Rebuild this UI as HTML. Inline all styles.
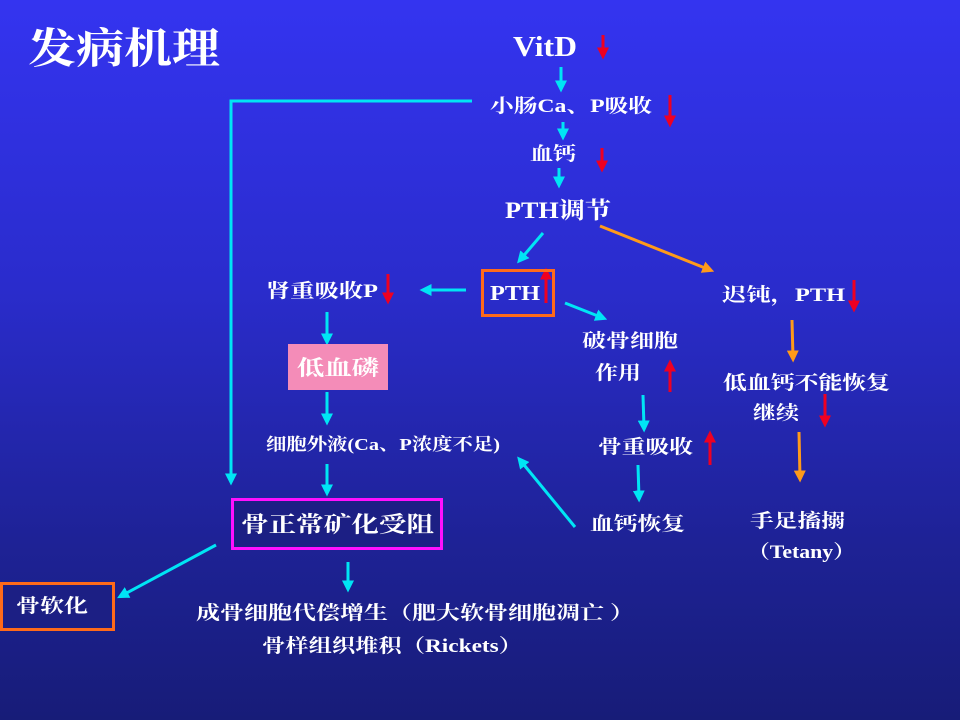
<!DOCTYPE html>
<html><head><meta charset="utf-8"><style>
html,body{margin:0;padding:0;width:960px;height:720px;overflow:hidden}
body{background:linear-gradient(#3434f0 0%,#2a2ccc 40%,#1e2296 75%,#171c78 100%)}
svg{position:absolute;left:0;top:0}
text{fill:#fff;font-family:"Liberation Serif","Noto Serif CJK SC",serif;font-weight:bold}
</style></head><body>
<svg width="960" height="720" viewBox="0 0 960 720">
<defs>
<marker id="c" markerWidth="4" markerHeight="4" refX="2.5" refY="2" orient="auto" markerUnits="strokeWidth"><path d="M0,0L4,2L0,4Z" fill="#00e5f5"/></marker>
<marker id="o" markerWidth="4" markerHeight="4" refX="2.5" refY="2" orient="auto" markerUnits="strokeWidth"><path d="M0,0L4,2L0,4Z" fill="#ff9a1a"/></marker>
<marker id="r" markerWidth="4" markerHeight="4" refX="2.5" refY="2" orient="auto" markerUnits="strokeWidth"><path d="M0,0L4,2L0,4Z" fill="#ee0022"/></marker>
</defs>
<g stroke="#00e5f5" stroke-width="3" fill="none">
<line x1="561" y1="67" x2="561" y2="88" marker-end="url(#c)"/>
<line x1="563" y1="122" x2="563" y2="136" marker-end="url(#c)"/>
<line x1="559" y1="168" x2="559" y2="184" marker-end="url(#c)"/>
<line x1="543" y1="233" x2="520" y2="260" marker-end="url(#c)"/>
<line x1="466" y1="290" x2="424" y2="290" marker-end="url(#c)"/>
<line x1="565" y1="303" x2="603" y2="318" marker-end="url(#c)"/>
<line x1="643" y1="395" x2="644" y2="428" marker-end="url(#c)"/>
<line x1="638" y1="465" x2="639" y2="498" marker-end="url(#c)"/>
<line x1="575" y1="527" x2="520" y2="460" marker-end="url(#c)"/>
<line x1="327" y1="312" x2="327" y2="341" marker-end="url(#c)"/>
<line x1="327" y1="392" x2="327" y2="421" marker-end="url(#c)"/>
<line x1="327" y1="464" x2="327" y2="492" marker-end="url(#c)"/>
<polyline points="472,101 231,101 231,481" marker-end="url(#c)"/>
<line x1="216" y1="545" x2="121" y2="596" marker-end="url(#c)"/>
<line x1="348" y1="562" x2="348" y2="588" marker-end="url(#c)"/>
</g>
<g stroke="#ff9a1a" stroke-width="3" fill="none">
<line x1="600" y1="226" x2="710" y2="270" marker-end="url(#o)"/>
<line x1="792" y1="320" x2="793" y2="358" marker-end="url(#o)"/>
<line x1="799" y1="432" x2="800" y2="478" marker-end="url(#o)"/>
</g>
<g stroke="#ee0022" stroke-width="3" fill="none">
<line x1="603" y1="35" x2="603" y2="55" marker-end="url(#r)"/>
<line x1="670" y1="95" x2="670" y2="123" marker-end="url(#r)"/>
<line x1="602" y1="148" x2="602" y2="168" marker-end="url(#r)"/>
<line x1="546" y1="303" x2="546" y2="272" marker-end="url(#r)"/>
<line x1="388" y1="274" x2="388" y2="300" marker-end="url(#r)"/>
<line x1="670" y1="392" x2="670" y2="364" marker-end="url(#r)"/>
<line x1="710" y1="465" x2="710" y2="435" marker-end="url(#r)"/>
<line x1="854" y1="280" x2="854" y2="308" marker-end="url(#r)"/>
<line x1="825" y1="394" x2="825" y2="423" marker-end="url(#r)"/>
</g>
<rect x="482.5" y="270.5" width="71" height="45" fill="none" stroke="#ff6a1a" stroke-width="3"/>
<rect x="288" y="344" width="100" height="46" fill="#f48cb8"/>
<rect x="232.5" y="499.5" width="209" height="49" fill="#1c1f84" stroke="#ff10ff" stroke-width="3"/>
<rect x="1.5" y="583.5" width="112" height="46" fill="#1c1f84" stroke="#ff6a1a" stroke-width="3"/>

<text x="28" y="63" font-size="42" textLength="192" lengthAdjust="spacingAndGlyphs" font-weight="normal">发病机理</text>
<text x="513" y="56" font-size="28" textLength="64" lengthAdjust="spacingAndGlyphs">VitD</text>
<text x="490" y="112" font-size="19" textLength="162" lengthAdjust="spacingAndGlyphs">小肠Ca、P吸收</text>
<text x="530" y="160" font-size="19" textLength="46" lengthAdjust="spacingAndGlyphs">血钙</text>
<text x="505" y="218" font-size="23" textLength="106" lengthAdjust="spacingAndGlyphs">PTH调节</text>
<text x="490" y="300" font-size="21" textLength="50" lengthAdjust="spacingAndGlyphs">PTH</text>
<text x="266" y="297" font-size="19" textLength="112" lengthAdjust="spacingAndGlyphs">肾重吸收P</text>
<text x="582" y="347" font-size="19" textLength="96" lengthAdjust="spacingAndGlyphs">破骨细胞</text>
<text x="595" y="379" font-size="19" textLength="46" lengthAdjust="spacingAndGlyphs">作用</text>
<text x="598" y="453" font-size="19" textLength="95" lengthAdjust="spacingAndGlyphs">骨重吸收</text>
<text x="590" y="530" font-size="19" textLength="95" lengthAdjust="spacingAndGlyphs">血钙恢复</text>
<text x="297" y="375" font-size="21" textLength="82" lengthAdjust="spacingAndGlyphs">低血磷</text>
<text x="266" y="450" font-size="17" textLength="234" lengthAdjust="spacingAndGlyphs">细胞外液(Ca、P浓度不足)</text>
<text x="241" y="532" font-size="22" textLength="193" lengthAdjust="spacingAndGlyphs">骨正常矿化受阻</text>
<text x="16" y="612" font-size="19" textLength="72" lengthAdjust="spacingAndGlyphs">骨软化</text>
<text x="196" y="619" font-size="19" textLength="438" lengthAdjust="spacingAndGlyphs">成骨细胞代偿增生（肥大软骨细胞凋亡 ）</text>
<text x="262" y="652" font-size="19" textLength="260" lengthAdjust="spacingAndGlyphs">骨样组织堆积（Rickets）</text>
<text x="722" y="301" font-size="19" textLength="123" lengthAdjust="spacingAndGlyphs">迟钝，PTH</text>
<text x="723" y="389" font-size="19" textLength="167" lengthAdjust="spacingAndGlyphs">低血钙不能恢复</text>
<text x="753" y="419" font-size="19" textLength="46" lengthAdjust="spacingAndGlyphs">继续</text>
<text x="750" y="527" font-size="19" textLength="95" lengthAdjust="spacingAndGlyphs">手足搐搦</text>
<text x="748" y="558" font-size="19" textLength="107" lengthAdjust="spacingAndGlyphs">（Tetany）</text>
</svg>
</body></html>
